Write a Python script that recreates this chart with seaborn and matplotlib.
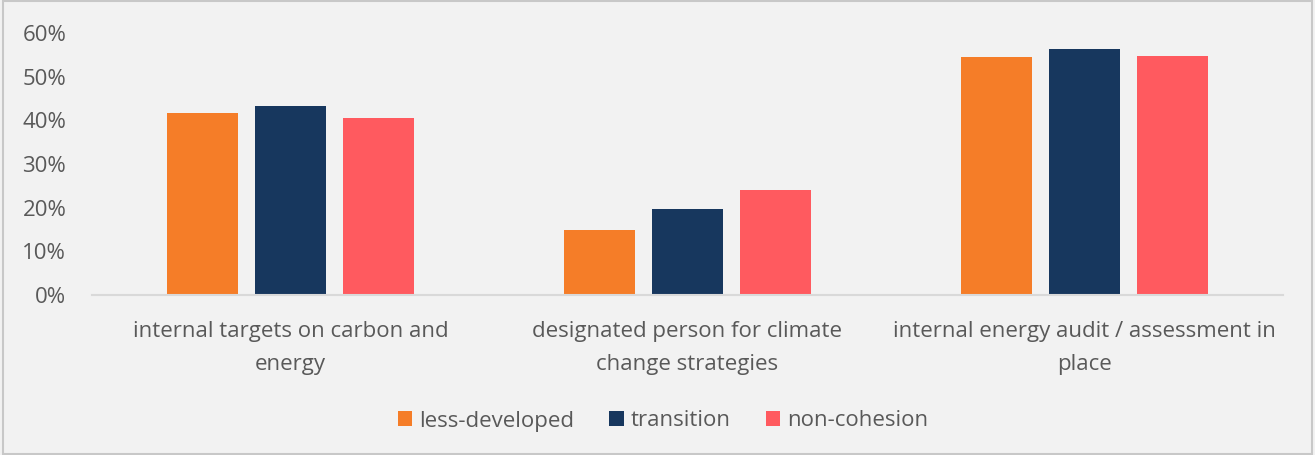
import pandas as pd
import numpy as np
import seaborn as sns
import matplotlib.pyplot as plt
from matplotlib.ticker import PercentFormatter

categories = ["internal targets on carbon and\nenergy",
              "designated person for climate\nchange strategies",
              "internal energy audit / assessment in\nplace"]
groups = ["less-developed", "transition", "non-cohesion"]
less_developed = [0.417, 0.148, 0.546]
transition = [0.433, 0.196, 0.563]
non_cohesion = [0.405, 0.240, 0.548]
colors = ["#F57D28", "#17375E", "#FF5A5F"]

df = pd.DataFrame({"category": categories * 3,
                   "group": np.repeat(groups, 3),
                   "value": less_developed + transition + non_cohesion})

sns.set_style("white")
plt.rcParams["font.family"] = ["Open Sans", "DejaVu Sans"]

fig = plt.figure(figsize=(13.15, 4.55), dpi=100, facecolor="#f2f2f2")
ax = fig.add_axes([92/1315, 160/455, (1283-92)/1315, (295-33)/455])
ax.set_facecolor("#f2f2f2")

sns.barplot(data=df, x="category", y="value", hue="group",
            palette=colors, saturation=1, width=0.665, gap=0.2,
            linewidth=0, edgecolor="none", ax=ax, legend=True)

ax.set_ylim(0, 0.6)
ax.set_yticks(np.arange(0, 0.61, 0.1))
ax.yaxis.set_major_formatter(PercentFormatter(1.0, decimals=0))
ax.set_xlabel("")
ax.set_ylabel("")
for s in ["top", "right", "left"]:
    ax.spines[s].set_visible(False)
ax.spines["bottom"].set_color("#d9d9d9")
ax.spines["bottom"].set_linewidth(1.5)
ax.tick_params(axis="both", length=0, colors="#595959", labelsize=16)
ax.tick_params(axis="y", pad=18.5)
ax.tick_params(axis="x", pad=19)
for t in ax.get_xticklabels():
    t.set_linespacing(1.73)

handles, labels = ax.get_legend_handles_labels()
ax.get_legend().remove()
fig.legend(handles, labels, loc="center", bbox_to_anchor=(663/1315, 1 - 421/455),
           ncol=3, frameon=False, fontsize=16, labelcolor="#595959",
           handlelength=0.65, handleheight=0.65, handletextpad=0.3, columnspacing=1.6)

fig.patches.append(plt.Rectangle((0.002, 0.003), 0.996, 0.994, transform=fig.transFigure,
                                 fill=False, edgecolor="#c8c8c8", linewidth=1.5))

fig.savefig("out.png", dpi=100, facecolor=fig.get_facecolor())
